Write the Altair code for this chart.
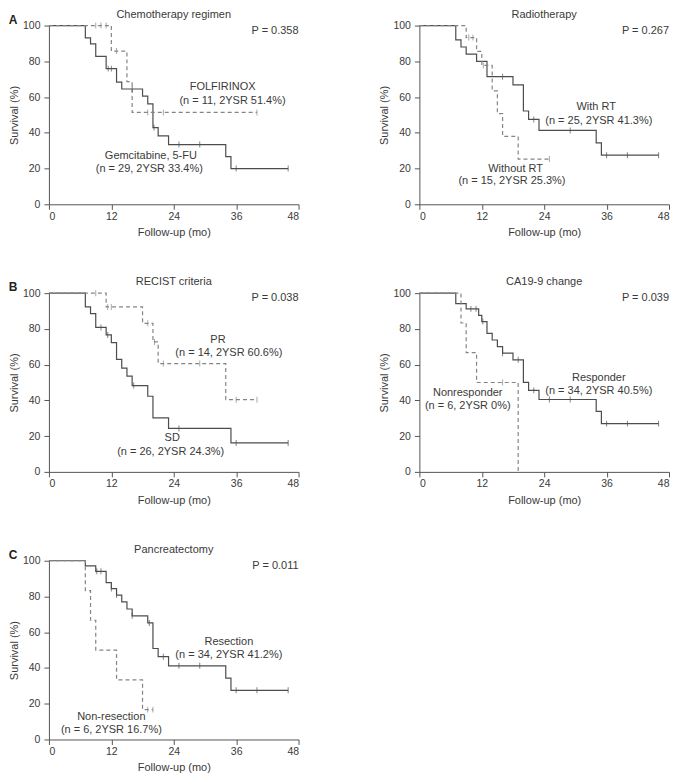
import altair as alt
import pandas as pd

# ---------------- data ----------------
# Chemotherapy regimen
gem_t = [0, 7, 8, 9, 11, 13, 14, 18, 19, 20, 21, 23, 34, 35, 46]
gem_s = [100, 93.1, 89.7, 82.8, 75.9, 68.3, 64.5, 60.5, 56.2, 42.9, 38.3, 33.4, 26.7, 20.0, 20.0]
gem_c = [11.4, 12, 16, 20.2, 25, 29, 36, 46]
fol_t = [0, 12, 15, 16, 40]
fol_s = [100, 85.7, 68.6, 51.4, 51.4]
fol_c = [9, 10, 11, 13, 19, 22, 40]

# Radiotherapy
wrt_t = [0, 7, 8, 9, 11, 13, 18, 20, 21, 23, 34, 35, 46]
wrt_s = [100, 92.0, 88.0, 84.0, 80.0, 71.4, 66.8, 52.2, 47.5, 41.3, 34.4, 27.5, 27.5]
wrt_c = [16, 22, 29, 36, 40, 46]
wort_t = [0, 9, 11, 12, 14, 15, 16, 19, 25]
wort_s = [100, 93.3, 85.5, 77.7, 63.4, 50.7, 38.0, 25.3, 25.3]
wort_c = [9.5, 10.3, 12.3, 25]

# RECIST criteria
sd_t = [0, 7, 8, 9, 11, 12, 13, 14, 15, 16, 19, 20, 23, 35, 46]
sd_s = [100, 92.3, 88.5, 80.8, 76.6, 72.3, 63.0, 58.1, 53.6, 48.3, 42.3, 30.2, 24.3, 16.2, 16.2]
sd_c = [10, 11.3, 16.3, 25, 36, 46]
pr_t = [0, 11, 18, 20, 21, 34, 40]
pr_s = [100, 92.3, 83.1, 72.7, 60.6, 40.4, 40.4]
pr_c = [9, 11.3, 12, 19, 20.3, 22, 29, 36, 40]

# CA19-9 change
resp_t = [0, 7, 9, 11.4, 12, 13, 14, 15, 16, 18, 20, 21, 23, 34, 35, 46]
resp_s = [100, 94.1, 91.2, 87.6, 84.1, 77.5, 73.8, 70.1, 66.4, 62.7, 50.1, 45.6, 40.5, 33.8, 27.0, 27.0]
resp_c = [9.9, 10.9, 12.2, 16, 19, 22, 25, 29, 36, 40, 46]
nonr_t = [0, 8, 9, 11, 19, 19]
nonr_s = [100, 83.3, 66.7, 50.0, 50.0, 0]
nonr_c = [16]

# Pancreatectomy
res_t = [0, 7, 9, 11, 12, 13, 14, 15, 16, 19, 20, 21, 23, 34, 35, 46]
res_s = [100, 97.1, 94.1, 87.8, 84.4, 80.8, 77.0, 73.0, 69.2, 65.2, 50.9, 46.3, 41.2, 34.3, 27.5, 27.5]
res_c = [9.2, 10, 12, 13, 16, 19.3, 22, 25, 29, 36, 40, 46]
nres_t = [0, 7, 8, 9, 13, 18, 20]
nres_s = [100, 83.3, 66.7, 50.0, 33.3, 16.7, 16.7]
nres_c = [19, 20]

titles = ["Chemotherapy regimen", "Radiotherapy", "RECIST criteria", "CA19-9 change", "Pancreatectomy"]
letters = ["A", "", "B", "", "C"]
pvalues = ["P = 0.358", "P = 0.267", "P = 0.038", "P = 0.039", "P = 0.011"]
x_ticks = [0, 12, 24, 36, 48]
y_ticks = [0, 20, 40, 60, 80, 100]

# annotation texts
ann_text = [
    ["FOLFIRINOX", "(n = 11, 2YSR 51.4%)", "Gemcitabine, 5-FU", "(n = 29, 2YSR 33.4%)"],
    ["With RT", "(n = 25, 2YSR 41.3%)", "Without RT", "(n = 15, 2YSR 25.3%)"],
    ["PR", "(n = 14, 2YSR 60.6%)", "SD", "(n = 26, 2YSR 24.3%)"],
    ["Responder", "(n = 34, 2YSR 40.5%)", "Nonresponder", "(n = 6, 2YSR 0%)"],
    ["Resection", "(n = 34, 2YSR 41.2%)", "Non-resection", "(n = 6, 2YSR 16.7%)"],
]
# annotation anchor positions in data units (x months, y %)
ann_x = [[33.4, 35.3, 19.6, 19.3], [34.0, 34.5, 18.5, 17.8], [32.5, 34.6, 23.7, 23.4],
         [34.5, 34.5, 9.3, 9.3], [34.6, 34.6, 12.0, 12.0]]
ann_y = [[65.6, 58.0, 27.0, 19.9], [54.3, 46.6, 20.0, 13.1], [73.9, 66.3, 18.7, 11.1],
         [52.5, 45.1, 44.3, 36.6], [54.6, 47.0, 12.7, 5.5]]

# ---------------- styling ----------------
W, H = 250, 179
FONT = "Liberation Sans"
TXT = "#3a3a3a"
SOLID = "#4d4d4d"
DASH = "#858585"


def step_value(ts, ss, t):
    v = ss[0]
    for ti, si in zip(ts, ss):
        if ti <= t:
            v = si
    return v


def panel(idx, curves):
    rows, cens = [], []
    for name, ts, ss, cts, style in curves:
        for t, s in zip(ts, ss):
            rows.append({"g": name, "t": t, "s": s, "style": style})
        for c in cts:
            cens.append({"g": name, "t": c, "s": step_value(ts, ss, c),
                         "col": SOLID if style == "solid" else DASH})
    df = pd.DataFrame(rows)
    cdf = pd.DataFrame(cens)

    x = alt.X("t:Q", scale=alt.Scale(domain=[0, 48], nice=False, zero=True),
              axis=alt.Axis(values=x_ticks, title="Follow-up (mo)", labelPadding=2,
                            titlePadding=5, grid=False))
    y = alt.Y("s:Q", scale=alt.Scale(domain=[0, 100], nice=False),
              axis=alt.Axis(values=y_ticks, title="Survival (%)", labelPadding=4,
                            titlePadding=3, grid=False))

    solid = alt.Chart(df[df["style"] == "solid"]).mark_line(
        interpolate="step-after", color=SOLID, strokeWidth=1.2
    ).encode(x=x, y=y, detail="g:N")
    dashed = alt.Chart(df[df["style"] == "dashed"]).mark_line(
        interpolate="step-after", color=DASH, strokeWidth=1.2, strokeDash=[4, 3]
    ).encode(x=x, y=y, detail="g:N")
    ticks = alt.Chart(cdf).mark_tick(orient="vertical", size=6, thickness=1).encode(
        x=x, y=y, color=alt.Color("col:N", scale=None)
    )
    adf = pd.DataFrame({"t": ann_x[idx], "s": ann_y[idx], "text": ann_text[idx]})
    ann = alt.Chart(adf).mark_text(
        font=FONT, fontSize=11, color=TXT, align="center", baseline="middle"
    ).encode(x=x, y=y, text="text:N")

    ttl = alt.Chart(pd.DataFrame({"text": [titles[idx]]})).mark_text(
        font=FONT, fontSize=11, color=TXT, align="center", baseline="middle"
    ).encode(x=alt.value(W / 2), y=alt.value(-11), text="text:N")
    pv = alt.Chart(pd.DataFrame({"text": [pvalues[idx]]})).mark_text(
        font=FONT, fontSize=11, color=TXT, align="right", baseline="middle"
    ).encode(x=alt.value(W), y=alt.value(5), text="text:N")

    layers = [solid, dashed, ticks, ann, ttl, pv]
    if letters[idx]:
        lt = alt.Chart(pd.DataFrame({"text": [letters[idx]]})).mark_text(
            font=FONT, fontSize=12, fontWeight="bold", color="#222222",
            align="center", baseline="middle"
        ).encode(x=alt.value(-36), y=alt.value(-6), text="text:N")
        layers.append(lt)
    return alt.layer(*layers).properties(width=W, height=H)


pA1 = panel(0, [("Gemcitabine", gem_t, gem_s, gem_c, "solid"),
                ("FOLFIRINOX", fol_t, fol_s, fol_c, "dashed")])
pA2 = panel(1, [("With RT", wrt_t, wrt_s, wrt_c, "solid"),
                ("Without RT", wort_t, wort_s, wort_c, "dashed")])
pB1 = panel(2, [("SD", sd_t, sd_s, sd_c, "solid"),
                ("PR", pr_t, pr_s, pr_c, "dashed")])
pB2 = panel(3, [("Responder", resp_t, resp_s, resp_c, "solid"),
                ("Nonresponder", nonr_t, nonr_s, nonr_c, "dashed")])
pC1 = panel(4, [("Resection", res_t, res_s, res_c, "solid"),
                ("Non-resection", nres_t, nres_s, nres_c, "dashed")])

chart = alt.vconcat(
    alt.hconcat(pA1, pA2, spacing=79),
    alt.hconcat(pB1, pB2, spacing=79),
    pC1,
    spacing=38,
).properties(padding=0, background="white").configure_view(stroke=None).configure_axis(
    grid=False,
    labelFont=FONT, labelFontSize=10.5, labelColor=TXT,
    titleFont=FONT, titleFontSize=11, titleFontWeight="normal", titleColor=TXT,
    domainColor="#555555", tickColor="#555555", tickSize=5, domainWidth=1, tickWidth=1,
)

chart.save("out.html", embed_options={"renderer": "svg", "actions": False})
